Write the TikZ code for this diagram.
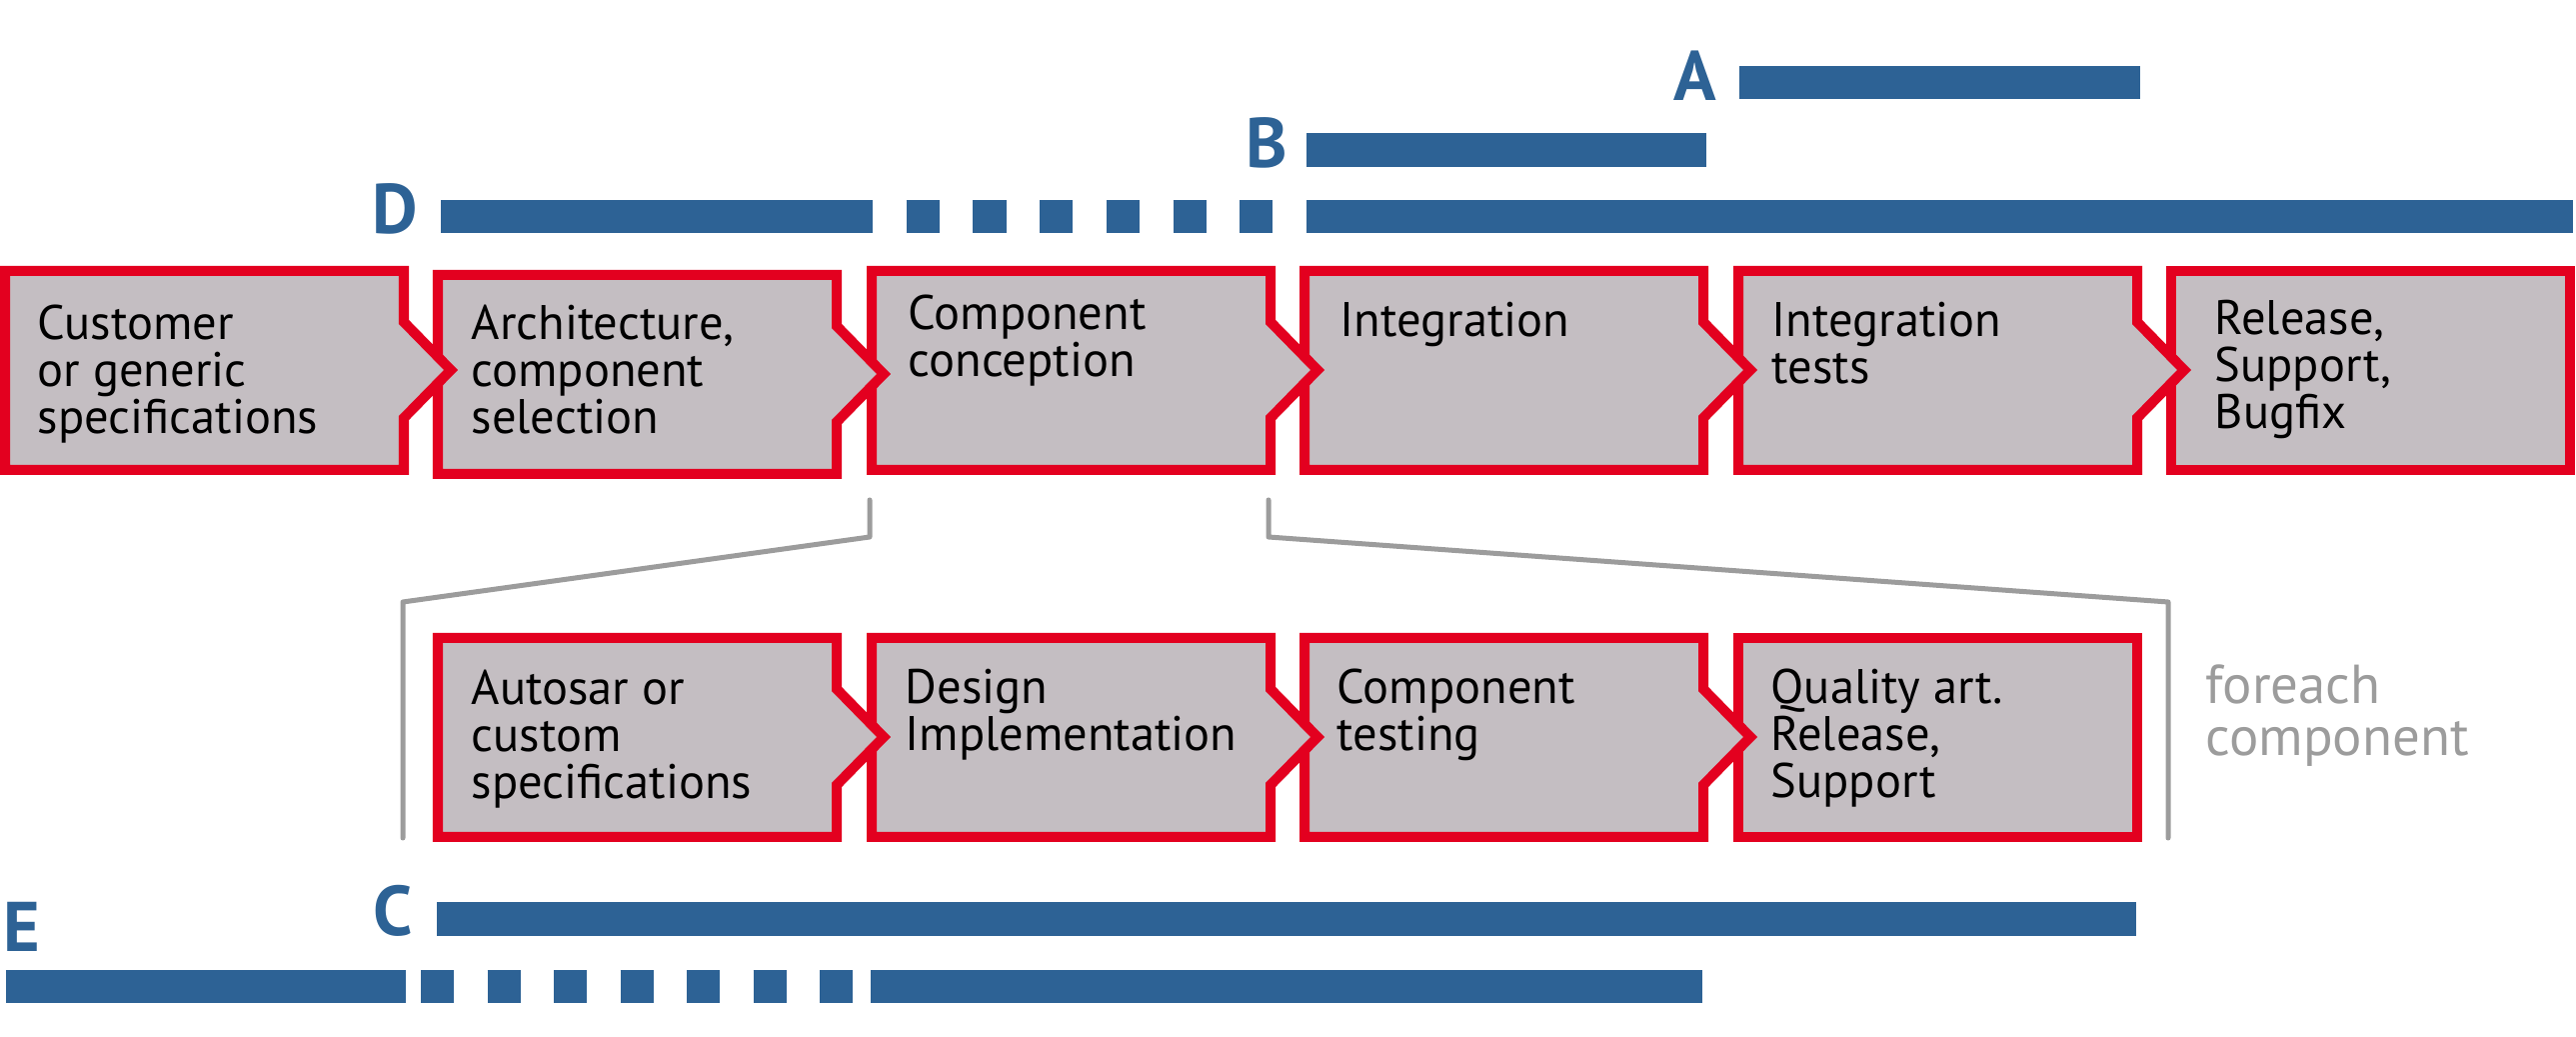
\documentclass[tikz,border=0pt]{standalone}
\usepackage{fontspec}
\setmainfont{PT Sans}
\usepackage{tikz}
\usetikzlibrary{positioning}

\definecolor{stagered}{HTML}{E3001F}
\definecolor{stagefill}{HTML}{C4BEC2}
\definecolor{barblue}{HTML}{2D6295}
\definecolor{linegray}{HTML}{9C9C9C}

\begin{document}
\begin{tikzpicture}[x=0.01cm, y=-0.01cm,
	stage/.style={draw=stagered, fill=stagefill, line width=0.1cm},
	txt/.style={anchor=north west, inner sep=0pt, align=left, font=\fontsize{13.8}{13.4}\selectfont},
	letter/.style={anchor=base west, inner sep=0pt, text=barblue, font=\fontsize{20}{20}\selectfont\bfseries},
	bar/.style={draw=barblue, line width=0.33cm},
	bracket/.style={draw=linegray, line width=0.05cm, line cap=round, line join=round}]
\useasboundingbox (0,0) rectangle (2577,1037);

% upper row, drawn right to left so each tip lies on the next box
\draw [stage] (2172,271) rectangle (2571,470);
\foreach \l/\t in {1734/266,1300/266,867/266,433/270,0/266}
\draw [stage] (\l+5,\t+5) -- (\l+404,\t+5) -- (\l+404,\t+56) -- (\l+451,\t+104)
	-- (\l+404,\t+152) -- (\l+404,\t+204) -- (\l+5,\t+204) -- cycle;

% lower row
\draw [stage] (1739,638) rectangle (2138,837);
\foreach \l in {1300,867,433}
\draw [stage] (\l+5,638) -- (\l+404,638) -- (\l+404,689) -- (\l+451,737)
	-- (\l+404,785) -- (\l+404,837) -- (\l+5,837) -- cycle;

\node [txt] (cust) at (37,304) {Customer\\or generic\\specifications};
\node [txt] (arch) at (471,304) {Architecture,\\component\\selection};
\node [txt] (conc) at (908,294) {Component\\conception};
\node [txt] (integ) at (1340,301) {Integration};
\node [txt] (itest) at (1772,301) {Integration\\tests};
\node [txt] (rel) at (2215,299) {Release,\\Support,\\Bugfix};

\node [txt] (autosar) at (471,669) {Autosar or\\custom\\specifications};
\node [txt] (design) at (905,668) {Design\\Implementation};
\node [txt] (ctest) at (1337,668) {Component\\testing};
\node [txt] (qual) at (1771,668) {Quality art.\\Release,\\Support};

% bracket round the component steps
\draw [bracket] (870,500) -- (870,537) -- (403,602) -- (403,838);
\draw [bracket] (1269,500) -- (1269,537) -- (2169,602) -- (2169,838);
\node [txt, text=linegray, font=\fontsize{15.6}{14.8}\selectfont] (each) at (2206,664) {foreach\\component};

% bars
\node [letter] (A) at (1674,101) {A};
\draw [bar] (1740,83) -- (2141,83);
\node [letter] (B) at (1246,168) {B};
\draw [bar] (1307,150) -- (1707,150);
\node [letter] (D) at (372,234) {D};
\draw [bar] (441,216.5) -- (840,216.5);
\draw [bar, dash pattern=on 0.33cm off 0.337cm] (840,216.5) -- (1273,216.5);
\draw [bar] (1307,216.5) -- (2574,216.5);
\node [letter] (C) at (373,936) {C};
\draw [bar] (437,919) -- (2137,919);
\node [letter] (E) at (3,952) {E};
\draw [bar] (6,986.5) -- (406,986.5);
\draw [bar, dash pattern=on 0.33cm off 0.335cm] (421,986.5) -- (853,986.5);
\draw [bar] (871,986.5) -- (1703,986.5);
\end{tikzpicture}
\end{document}
